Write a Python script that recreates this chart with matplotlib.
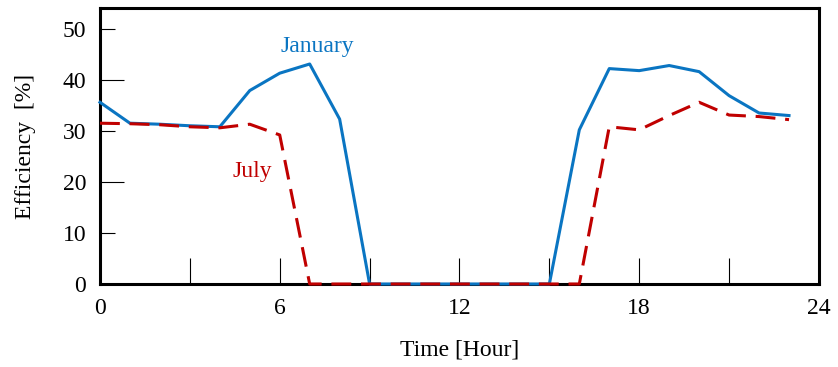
import matplotlib
matplotlib.use("Agg")
import matplotlib.pyplot as plt

plt.rcParams['font.family'] = ['Liberation Serif', 'DejaVu Serif']

# hourly efficiency readings
hours = list(range(24))
january = [35.6, 31.5, 31.3, 31.0, 30.8, 37.9, 41.3, 43.1, 32.3, 0, 0, 0,
           0, 0, 0, 0, 30.2, 42.2, 41.8, 42.8, 41.6, 36.9, 33.5, 33.0]
july = [31.5, 31.4, 31.2, 30.8, 30.6, 31.3, 29.2, 0, 0, 0, 0, 0,
        0, 0, 0, 0, 0, 30.8, 30.2, 33.0, 35.6, 33.1, 32.8, 32.2]

blue = '#0a75c2'
red = '#c00000'
fs = 17

fig = plt.figure(figsize=(8.38, 3.67), dpi=100)
ax = fig.add_axes([0.1193, 0.2262, 0.858, 0.751])

ax.plot(hours, january, color=blue, lw=2.2, zorder=3, clip_on=False)
ax.plot(hours, july, color=red, lw=2.2, dashes=(6.5, 3.2), zorder=4, clip_on=False)

ax.text(7.24, 46.5, 'January', color=blue, fontsize=fs, ha='center', va='center')
ax.text(5.1, 22.0, 'July', color=red, fontsize=fs, ha='center', va='center')

ax.set_xlim(0, 24)
ax.set_ylim(0, 54)

ax.set_xticks([0, 3, 6, 9, 12, 15, 18, 21, 24])
ax.set_xticklabels(['0', '', '6', '', '12', '', '18', '', '24'])
ax.set_yticks([0, 20, 40])
ax.set_yticks([10, 30, 50], minor=True)
ax.set_yticklabels(['0', '20', '40'])
ax.set_yticklabels(['10', '30', '50'], minor=True)

ax.tick_params(axis='x', direction='in', length=19, width=0.8, pad=10, labelsize=fs)
ax.tick_params(axis='y', which='major', direction='in', length=17, width=0.8, pad=10, labelsize=fs)
ax.tick_params(axis='y', which='minor', direction='in', length=11, width=0.8, pad=10, labelsize=fs)
ax.tick_params(axis='x', which='minor', bottom=False)

for s in ax.spines.values():
    s.set_linewidth(2.2)

ax.set_xlabel('Time [Hour]', fontsize=fs, labelpad=15)
ax.set_ylabel('Efficiency  [%]', fontsize=fs, labelpad=19)

fig.savefig('out.png', dpi=100)
